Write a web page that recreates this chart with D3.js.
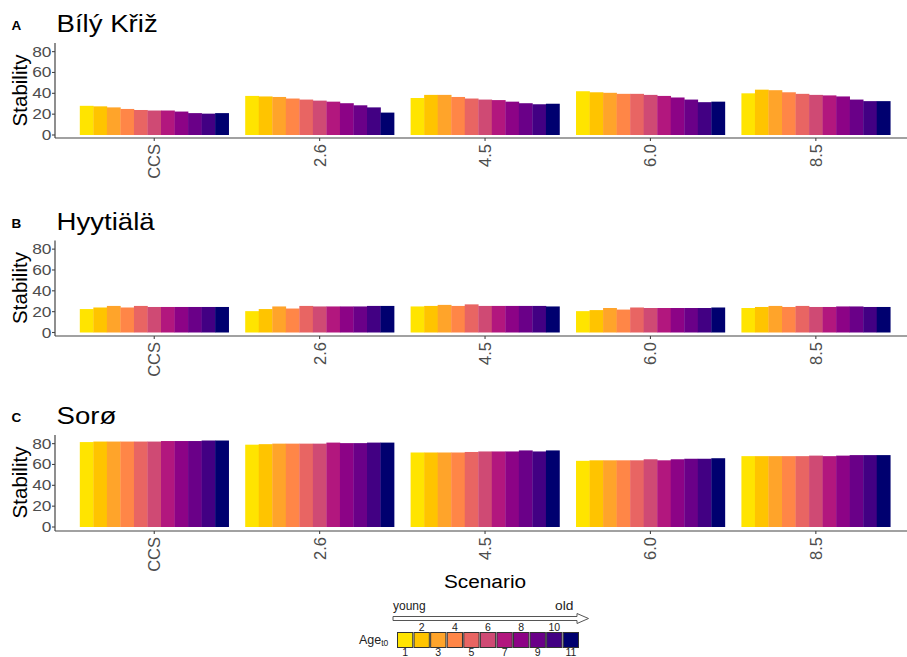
<!DOCTYPE html>
<html>
<head>
<meta charset="utf-8">
<script src="https://cdn.jsdelivr.net/npm/d3@7"></script>
<style>
html,body{margin:0;padding:0;background:#fff;}
svg{display:block;font-family:"Liberation Sans",Arial,sans-serif;}
</style>
</head>
<body>
<svg id="chart" width="907" height="657"></svg>
<script>
// ---------- data ----------
const scenarios = ["CCS", "2.6", "4.5", "6.0", "8.5"];
const ageClasses = [1, 2, 3, 4, 5, 6, 7, 8, 9, 10, 11];
const ageColors = ["#FFE400", "#FFC400", "#FFA42A", "#FF8647", "#E86563", "#CF4A74",
                   "#B2177E", "#8C0386", "#6A0088", "#420083", "#00006F"];
const yTicks = [0, 20, 40, 60, 80];
const siteNames = ["Bílý Křiž", "Hyytiälä", "Sorø"];
const panelLetters = ["A", "B", "C"];

// stability per scenario (rows) and age class (columns)
const bilyKriz = [
  [28, 27.5, 26.5, 25, 24, 23.5, 23.5, 22.5, 21, 20.5, 21],
  [37.5, 37, 36.5, 35, 34, 33, 32, 30.5, 28.5, 26.5, 21.5],
  [35.5, 38.5, 38.5, 36.5, 35, 34, 33.5, 32, 30.5, 29.5, 30],
  [42, 41, 40.5, 39.5, 39.5, 38.5, 37.5, 36, 34, 31.5, 32],
  [40, 43.5, 43, 41, 39.5, 38.5, 38, 37, 34, 32.5, 32.5]
];
const hyytiala = [
  [22.5, 24, 25.5, 24, 25.5, 24.5, 24.5, 24.5, 24.5, 24.5, 24.5],
  [20.5, 22.5, 25, 23, 25.5, 25, 25, 25, 25, 25.5, 25.5],
  [25, 25.5, 26.5, 25.5, 27, 25.5, 25.5, 25.5, 25.5, 25.5, 25],
  [20.5, 21.5, 23.5, 22, 24, 23.5, 23.5, 23.5, 23.5, 23.5, 24],
  [23.5, 24.5, 25.5, 24.5, 25.5, 24.5, 24.5, 25, 25, 24.5, 24.5]
];
const soro = [
  [81.5, 82, 82, 82, 82, 82, 82.5, 82.5, 82.5, 83, 83],
  [79, 79.5, 80, 80, 80, 80, 81, 80.5, 80.5, 81, 81],
  [71.5, 71.5, 71.5, 71.5, 72, 72.5, 72.5, 72.5, 73.5, 72.5, 73.5],
  [63.5, 64, 64, 64, 64, 65, 64, 65, 65.5, 65.5, 66],
  [68, 68, 68, 68, 68, 68.5, 68, 68.5, 69, 69, 69]
];
const siteData = [bilyKriz, hyytiala, soro];

// ---------- layout ----------
const svg = d3.select("#chart");
const axisX = 55;
const step = 165.4;
const zeroYs = [135, 332.5, 527];
const axisLineYs = [138, 336, 531];
const pxPerUnit = 1.042;

const x0 = d3.scaleBand().domain(scenarios)
  .range([axisX, axisX + 5.2 * step]).paddingInner(0.1).paddingOuter(0.15);
const x1 = d3.scaleBand().domain(ageClasses).range([0, x0.bandwidth()]).padding(0);
const color = d3.scaleOrdinal().domain(ageClasses).range(ageColors);

function htext(parent, x, y, str, size, sx, anchor, fill, weight) {
  return parent.append("text")
    .attr("transform", `translate(${x},${y}) scale(${sx},1)`)
    .attr("text-anchor", anchor || "start")
    .attr("font-size", size)
    .attr("font-weight", weight || "normal")
    .attr("fill", fill || "#000")
    .text(str);
}

siteData.forEach((rows, p) => {
  const z = zeroYs[p];
  const y = d3.scaleLinear().domain([0, 80]).range([z, z - 80 * pxPerUnit]);
  const g = svg.append("g");

  // bars
  scenarios.forEach((s, si) => {
    const grp = g.append("g").attr("transform", `translate(${x0(s)},0)`);
    grp.selectAll("rect").data(rows[si]).join("rect")
      .attr("x", (d, i) => x1(ageClasses[i]))
      .attr("width", x1.bandwidth() + 0.3)
      .attr("y", d => y(d))
      .attr("height", d => y(0) - y(d))
      .attr("fill", (d, i) => color(ageClasses[i]));
  });

  // y axis
  const yTop = z - 92;
  g.append("line").attr("x1", axisX).attr("x2", axisX)
    .attr("y1", yTop).attr("y2", axisLineYs[p])
    .attr("stroke", "#444").attr("stroke-width", 1.2);
  yTicks.forEach(t => {
    g.append("line").attr("x1", axisX - 3).attr("x2", axisX)
      .attr("y1", y(t)).attr("y2", y(t)).attr("stroke", "#444").attr("stroke-width", 1.1);
    htext(g, axisX - 3.5, y(t) + 5, String(t), 14, 1.24, "end", "#4D4D4D");
  });

  // x axis
  g.append("line").attr("x1", axisX).attr("x2", 915)
    .attr("y1", axisLineYs[p]).attr("y2", axisLineYs[p])
    .attr("stroke", "#444").attr("stroke-width", 1.2);
  scenarios.forEach(s => {
    const cx = x0(s) + x0.bandwidth() / 2;
    g.append("line").attr("x1", cx).attr("x2", cx)
      .attr("y1", axisLineYs[p]).attr("y2", axisLineYs[p] + 3)
      .attr("stroke", "#444").attr("stroke-width", 1.1);
    g.append("text")
      .attr("transform", `translate(${cx},${axisLineYs[p] + 6}) rotate(-90)`)
      .attr("text-anchor", "end")
      .attr("dy", "0.36em")
      .attr("font-size", 16.5)
      .attr("fill", "#4D4D4D")
      .text(s);
  });

  // y axis title
  g.append("text")
    .attr("transform", `translate(26.5,${z - 44.5}) rotate(-90)`)
    .attr("text-anchor", "middle")
    .attr("font-size", 20.5)
    .attr("fill", "#000")
    .text("Stability");

  // panel title + letter
  htext(g, 56.5, z - 103, siteNames[p], 24, 1.15, "start", "#000");
  htext(g, 11.5, z - 105, panelLetters[p], 13.5, 1.0, "start", "#000", "bold");
});

// x axis title
htext(svg, 485, 587.5, "Scenario", 18.6, 1.12, "middle", "#000");

// ---------- legend ----------
const lg = svg.append("g");
// hollow arrow
const ax0 = 393, ax1 = 577, axTip = 588.5, ayc = 618.5;
lg.append("path")
  .attr("d", `M${ax0},${ayc - 2} L${ax1},${ayc - 2} L${ax1},${ayc - 5} L${axTip},${ayc} L${ax1},${ayc + 5} L${ax1},${ayc + 2} L${ax0},${ayc + 2} Z`)
  .attr("fill", "#fff").attr("stroke", "#555").attr("stroke-width", 1);
htext(lg, 393, 610, "young", 12, 1.0, "start", "#222");
htext(lg, 555, 610, "old", 12, 1.15, "start", "#222");

const lx = d3.scaleBand().domain(ageClasses).range([397.5, 578.5]).paddingInner(0.08);
lg.selectAll("rect.key").data(ageClasses).join("rect")
  .attr("class", "key")
  .attr("x", d => lx(d)).attr("y", 632.5)
  .attr("width", lx.bandwidth()).attr("height", 15)
  .attr("fill", d => color(d))
  .attr("stroke", "#333").attr("stroke-width", 1);
ageClasses.forEach(a => {
  const cx = lx(a) + lx.bandwidth() / 2;
  htext(lg, cx, a % 2 === 0 ? 630.5 : 655.5, String(a), 10.5, 1.0, "middle", "#222");
});
const ageLabel = lg.append("text")
  .attr("transform", "translate(359,644)")
  .attr("font-size", 12.5).attr("fill", "#222");
ageLabel.append("tspan").text("Age");
ageLabel.append("tspan").attr("font-size", 8.5).attr("dy", 2).text("t0");
</script>
</body>
</html>
